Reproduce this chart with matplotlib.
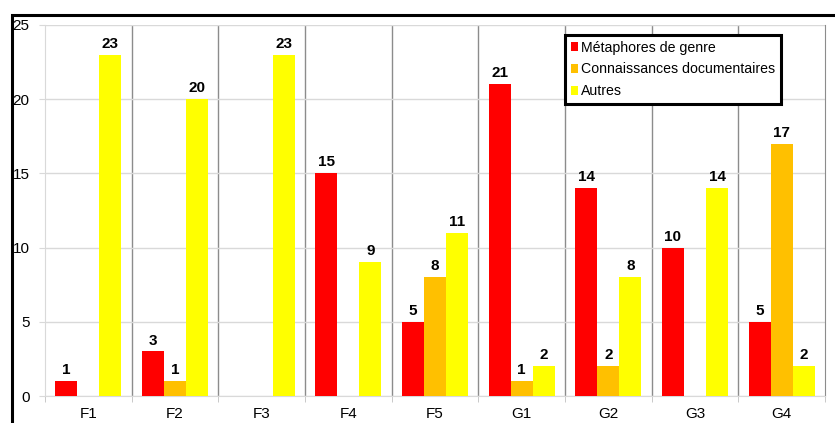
import numpy as np
import matplotlib.pyplot as plt
from matplotlib.patches import Rectangle

plt.rcParams['font.family'] = ['Liberation Sans', 'DejaVu Sans']

categories = ['F1', 'F2', 'F3', 'F4', 'F5', 'G1', 'G2', 'G3', 'G4']
metaphores = [1, 3, 0, 15, 5, 21, 14, 10, 5]
connaissances = [0, 1, 0, 0, 8, 1, 2, 0, 17]
autres = [23, 20, 23, 9, 11, 2, 8, 14, 2]
series_names = ['Métaphores de genre', 'Connaissances documentaires', 'Autres']
colors = ['#ff0000', '#ffc000', '#ffff00']

fig = plt.figure(figsize=(8.35, 4.23), dpi=100)
ax = fig.add_axes([45/835, 1 - 396/423, 780/835, 371/423])

# black frame around the chart area (cut off right/bottom)
fig.patches.append(Rectangle((12/835, -0.1), 1.2, 1 - 15/423 + 0.1,
                             transform=fig.transFigure, fill=False,
                             edgecolor='black', linewidth=2.2, zorder=10))

x = np.arange(len(categories))
bw = 0.254
for k, (vals, c, name) in enumerate(zip([metaphores, connaissances, autres], colors, series_names)):
    xs = x + (k - 1) * bw
    ax.bar(xs, vals, width=bw, color=c, label=name, zorder=3)
    for xi, v in zip(xs, vals):
        if v > 0:
            ax.annotate(str(v), (xi, v), xytext=(0, 5), textcoords='offset points',
                        ha='center', va='baseline', fontsize=11,
                        fontweight='bold', zorder=4)

ax.set_xlim(-0.5, len(categories) - 0.5)
ax.set_ylim(0, 25)
ax.set_yticks(range(0, 26, 5))
ax.yaxis.grid(True, color='#d9d9d9', linewidth=1, zorder=0)
for b in np.arange(0.5, len(categories) - 0.5, 1):
    ax.axvline(b, color='#8c8c8c', linewidth=1, zorder=1)

ax.set_xticks(x)
ax.set_xticklabels(categories, fontsize=11)
ax.set_xticks(np.arange(-0.5, len(categories)), minor=True)
ax.tick_params(axis='x', which='major', length=0, pad=8)
ax.tick_params(axis='x', which='minor', length=4, color='#bfbfbf')
ax.tick_params(axis='y', length=4, color='#d9d9d9', labelsize=11, pad=7)

ax.spines['top'].set_visible(False)
ax.spines['left'].set_color('#d9d9d9')
ax.spines['bottom'].set_color('#d9d9d9')
ax.spines['right'].set_color('#8c8c8c')

leg = ax.legend(loc='upper left', bbox_to_anchor=((565 - 45) / 780, (396 - 35) / 371),
                borderaxespad=0, fontsize=10.2, fancybox=False, framealpha=1,
                handlelength=0.55, handleheight=0.55, handletextpad=0.2,
                borderpad=0.4, labelspacing=0.55)
leg.get_frame().set_edgecolor('black')
leg.get_frame().set_linewidth(2.2)
leg.set_zorder(5)

fig.savefig('out.png', dpi=100)
